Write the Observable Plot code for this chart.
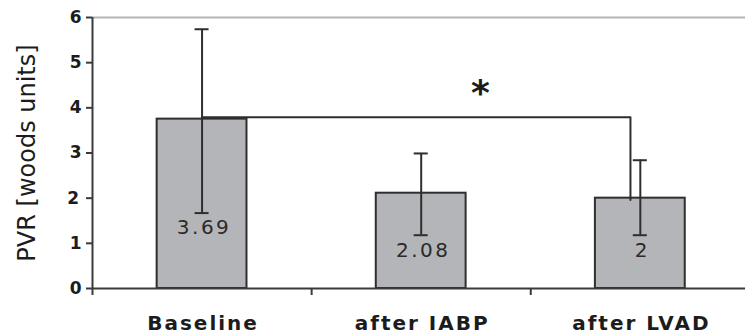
<!DOCTYPE html>
<html>
<head>
<meta charset="utf-8">
<script src="https://cdn.jsdelivr.net/npm/d3@7"></script>
<script src="https://cdn.jsdelivr.net/npm/@observablehq/plot@0.6"></script>
<style>
  html, body { margin: 0; padding: 0; background: #fff; }
  #chart { width: 745px; height: 335px; overflow: hidden; }
</style>
</head>
<body>
<div id="chart"></div>
<script>
// ---- data ----
const categories = ["Baseline", "after IABP", "after LVAD"];
const means = [3.75, 2.11, 2.0];
const meanLabels = ["3.69", "2.08", "2"];
const errLow = [1.67, 1.18, 1.18];
const errHigh = [5.74, 2.99, 2.84];
const yTicks = [0, 1, 2, 3, 4, 5, 6];
const bracketX = [0, 1.955];
const bracketY = 3.79;
const bracketEndY = 1.96;
const starX = 1.27;
const starY = 4.32;
const starText = "*";
const yTitle = "PVR [woods units]";

// table built from the arrays
const rows = categories.map((c, i) => ({
  i, cat: c, mean: means[i], label: meanLabels[i], lo: errLow[i], hi: errHigh[i]
}));
const bracket = [
  {x: bracketX[0], y: bracketY},
  {x: bracketX[1], y: bracketY},
  {x: bracketX[1], y: bracketEndY}
];

const halfBar = 0.205;   // bar half-width in category units
const halfCap = 0.032;   // error cap half-width
const axisColor = "#3a3a3a";
const ink = "#1c1c1c";

const chart = Plot.plot({
  width: 745,
  height: 335,
  marginLeft: 92,
  marginRight: 0,
  marginTop: 17,
  marginBottom: 47,
  style: {fontFamily: "'DejaVu Sans', sans-serif", fontSize: "17px", color: ink, background: "#fff"},
  x: {type: "linear", domain: [-0.5, 2.48], axis: null},
  y: {domain: [0, 6], axis: null},
  marks: [
    Plot.ruleY([6], {stroke: "#b4b4b4", strokeWidth: 2}),
    Plot.rectY(rows, {
      x1: d => d.i - halfBar, x2: d => d.i + halfBar, y1: 0, y2: "mean",
      fill: "#b4b5b9", stroke: "#2e2e2e", strokeWidth: 2
    }),
    Plot.line(bracket, {x: "x", y: "y", stroke: "#2e2e2e", strokeWidth: 2}),
    Plot.ruleX(rows, {x: "i", y1: "lo", y2: "hi", stroke: "#2e2e2e", strokeWidth: 2}),
    Plot.ruleY(rows, {y: "hi", x1: d => d.i - halfCap, x2: d => d.i + halfCap, stroke: "#2e2e2e", strokeWidth: 2}),
    Plot.ruleY(rows, {y: "lo", x1: d => d.i - halfCap, x2: d => d.i + halfCap, stroke: "#2e2e2e", strokeWidth: 2}),
    Plot.text(rows, {
      x: "i", y: "lo", text: "label", dy: 15, dx: 2,
      fontSize: 20, fill: "#2a2a2a"
    }),
    Plot.text([starText], {
      x: starX, y: starY, text: d => d, fontSize: 36, fontWeight: "bold", fill: ink
    }),
    Plot.ruleY([0], {stroke: axisColor, strokeWidth: 2}),
    Plot.ruleX([-0.5], {y1: 0, y2: 6, stroke: axisColor, strokeWidth: 2}),
    Plot.axisY({
      ticks: yTicks, tickSize: 6, tickPadding: 5, tickFormat: d => String(d),
      stroke: axisColor, strokeWidth: 2, fontWeight: "bold", fontSize: 17, fill: ink, label: null
    }),
    Plot.axisX({
      ticks: [-0.5, 0.5, 1.5], tickSize: 7, tickFormat: () => "",
      stroke: axisColor, strokeWidth: 2, label: null
    }),
    Plot.text(rows, {
      x: "i", y: 0, text: "cat", dy: 35, dx: 1,
      fontSize: 20, fontWeight: "bold", fill: ink
    }),
    Plot.text([yTitle], {
      frameAnchor: "left", textAnchor: "middle", text: d => d, rotate: -90, dx: -65,
      fontSize: 24, fill: ink
    })
  ]
});

const svgSel = d3.select(chart);
svgSel.selectAll("text").filter(function () {
  return categories.includes(this.textContent);
}).style("letter-spacing", "2px");
svgSel.selectAll("text").filter(function () {
  return meanLabels.includes(this.textContent);
}).style("letter-spacing", "2.5px");
document.getElementById("chart").appendChild(chart);
</script>
</body>
</html>
